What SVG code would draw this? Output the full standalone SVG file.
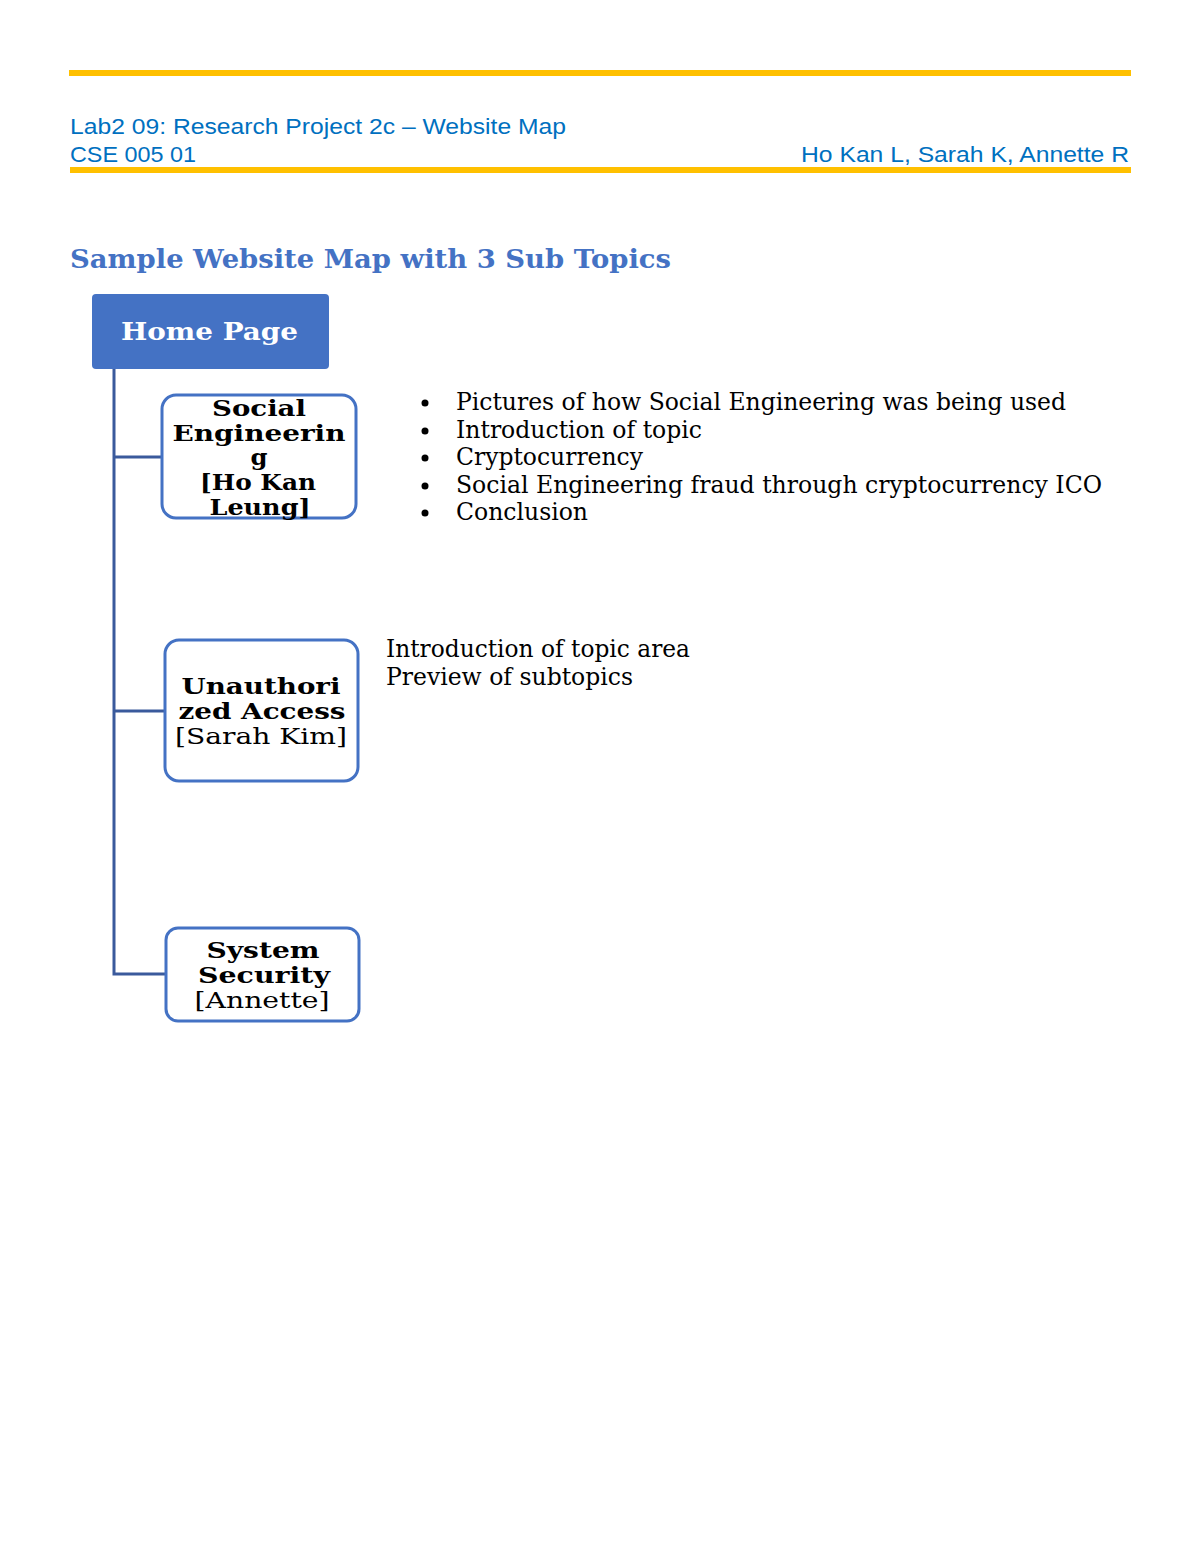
<svg xmlns="http://www.w3.org/2000/svg" width="1200" height="1553" viewBox="0 0 1200 1553">
<style>
.hdr{font-family:"Liberation Sans",Arial,sans-serif;font-size:22px;fill:#0070C0}
.gold{stroke:#FFC000;stroke-width:6}
.title{font-family:"DejaVu Serif",serif;font-weight:bold;font-size:26px;fill:#4472C4}
.box{fill:#fff;stroke:#4472C4;stroke-width:3}
.lbl{font-family:"DejaVu Serif",serif;font-weight:bold;font-size:23px;fill:#000;text-anchor:middle}
.lbr{font-family:"DejaVu Serif",serif;font-size:23px;fill:#000;text-anchor:middle}
.body{font-family:"DejaVu Serif Condensed","DejaVu Serif",serif;font-size:24px;fill:#000}
.conn{stroke:#3A5A9C;stroke-width:3;fill:none}
</style>
<rect width="1200" height="1553" fill="#fff"/>
<line class="gold" x1="69" y1="73" x2="1131" y2="73"/>
<text class="hdr" x="70" y="134" textLength="496" lengthAdjust="spacingAndGlyphs">Lab2 09: Research Project 2c – Website Map</text>
<text class="hdr" x="70" y="162" textLength="126" lengthAdjust="spacingAndGlyphs">CSE 005 01</text>
<text class="hdr" x="801" y="162" textLength="328" lengthAdjust="spacingAndGlyphs">Ho Kan L, Sarah K, Annette R</text>
<line class="gold" x1="70" y1="170" x2="1131" y2="170"/>
<text class="title" x="70" y="268" textLength="601" lengthAdjust="spacingAndGlyphs">Sample Website Map with 3 Sub Topics</text>
<g id="connectors">
<path class="conn" d="M114 369 V974 H166"/>
<path class="conn" d="M114 457 H162"/>
<path class="conn" d="M114 711 H165"/>
</g>
<g id="home">
<rect x="92" y="294" width="237" height="75" rx="4" fill="#4472C4"/>
<text x="121" y="340" font-family="DejaVu Serif,serif" font-weight="bold" font-size="24" fill="#fff" textLength="177" lengthAdjust="spacingAndGlyphs">Home Page</text>
</g>
<g id="social">
<rect class="box" x="162" y="395" width="194" height="123" rx="14"/>
<text class="lbl" x="259" y="416" textLength="94" lengthAdjust="spacingAndGlyphs">Social</text>
<text class="lbl" x="259" y="441" textLength="173" lengthAdjust="spacingAndGlyphs">Engineerin</text>
<text class="lbl" x="259" y="465" textLength="17" lengthAdjust="spacingAndGlyphs">g</text>
<text class="lbl" x="258" y="490" textLength="116" lengthAdjust="spacingAndGlyphs">[Ho Kan</text>
<text class="lbl" x="260" y="515" textLength="101" lengthAdjust="spacingAndGlyphs">Leung]</text>
</g>
<g id="unauth">
<rect class="box" x="165" y="640" width="193" height="141" rx="14"/>
<text class="lbl" x="261" y="694" textLength="159" lengthAdjust="spacingAndGlyphs">Unauthori</text>
<text class="lbl" x="262" y="719" textLength="167" lengthAdjust="spacingAndGlyphs">zed Access</text>
<text class="lbr" x="261" y="744" textLength="172" lengthAdjust="spacingAndGlyphs">[Sarah Kim]</text>
</g>
<g id="system">
<rect class="box" x="166" y="928" width="193" height="93" rx="12"/>
<text class="lbl" x="263" y="958" textLength="113" lengthAdjust="spacingAndGlyphs">System</text>
<text class="lbl" x="264" y="983" textLength="132" lengthAdjust="spacingAndGlyphs">Security</text>
<text class="lbr" x="262" y="1008" textLength="135" lengthAdjust="spacingAndGlyphs">[Annette]</text>
</g>
<g id="bullets">
<circle cx="425" cy="403" r="3.5"/>
<circle cx="425" cy="431" r="3.5"/>
<circle cx="425" cy="458" r="3.5"/>
<circle cx="425" cy="486" r="3.5"/>
<circle cx="425" cy="513" r="3.5"/>
<text class="body" x="456" y="410" textLength="610" lengthAdjust="spacingAndGlyphs">Pictures of how Social Engineering was being used</text>
<text class="body" x="456" y="438" textLength="246" lengthAdjust="spacingAndGlyphs">Introduction of topic</text>
<text class="body" x="456" y="465" textLength="187" lengthAdjust="spacingAndGlyphs">Cryptocurrency</text>
<text class="body" x="456" y="493" textLength="646" lengthAdjust="spacingAndGlyphs">Social Engineering fraud through cryptocurrency ICO</text>
<text class="body" x="456" y="520" textLength="132" lengthAdjust="spacingAndGlyphs">Conclusion</text>
</g>
<g id="notes">
<text class="body" x="386" y="657" textLength="304" lengthAdjust="spacingAndGlyphs">Introduction of topic area</text>
<text class="body" x="386" y="685" textLength="247" lengthAdjust="spacingAndGlyphs">Preview of subtopics</text>
</g>
</svg>
